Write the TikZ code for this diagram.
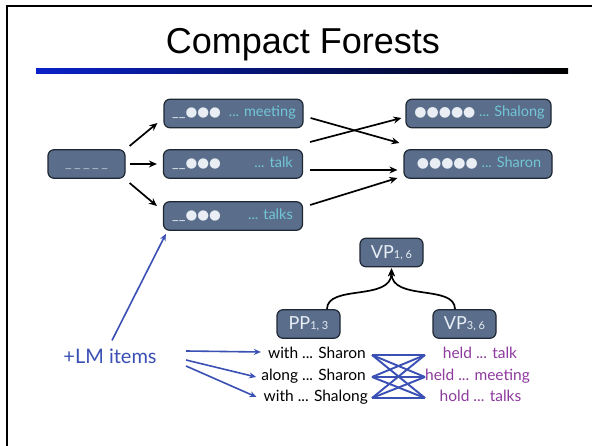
\documentclass[tikz,border=0pt]{standalone}
\usepackage{fontspec}
\setmainfont{Lato}
\newfontfamily\titlefont{Liberation Sans}
\newfontfamily\symfont{DejaVu Sans}
\usetikzlibrary{arrows.meta,calc}
\definecolor{boxfill}{HTML}{5A6E8C}
\definecolor{boxborder}{HTML}{1F2733}
\definecolor{cyantxt}{HTML}{72C6D6}
\definecolor{lighttxt}{HTML}{E8EEF4}
\definecolor{ustxt}{HTML}{B4C0CE}
\definecolor{lmblue}{HTML}{3A50B4}
\definecolor{purp}{HTML}{8E3A9E}
\definecolor{barblue}{HTML}{0A22C8}
\begin{document}
\begin{tikzpicture}[x=1pt,y=-1pt,
  mybox/.style={draw=boxborder, fill=boxfill, rounded corners=6pt, line width=1.2pt,
    minimum width=#1, minimum height=28.5pt, inner sep=0pt},
  intxt/.style={inner sep=0pt, text height=10pt, text depth=3pt, font=\fontsize{14.5}{16}\selectfont},
  treetxt/.style={text=lighttxt, font=\fontsize{18}{20}\selectfont},
  blackarrow/.style={line width=1.7pt, -{Stealth[length=8pt,width=7pt]}},
  bluearrow/.style={draw=lmblue, line width=1.6pt, -{Stealth[length=7pt,width=6pt]}},
  crossline/.style={draw=lmblue, line width=1.9pt},
  lowtxt/.style={inner sep=0pt, text height=11pt, text depth=3pt, font=\fontsize{15.5}{17}\selectfont}
]
\useasboundingbox (0,0) rectangle (592,446);
\fill[white] (0,0) rectangle (592,446);
% frame
\draw[line width=2.4pt] (7,446) -- (7,6) -- (592,6);
% title
\node[font=\titlefont\fontsize{36}{40}\selectfont, inner sep=0pt] (title) at (303,45) {Compact Forests};
\shade[left color=barblue, right color=black] (36,69) rectangle (568,74);

% boxes
\node[mybox=77] (L) at (86.5,164) {};
\node[intxt, text=ustxt] (Lt) at (86.5,164) {\_\,\_\,\_\,\_\,\_};

\node[mybox=139] (M1) at (233.5,113.5) {};
\node[mybox=139] (M2) at (233,164) {};
\node[mybox=139] (M3) at (233,216) {};
\node[intxt, anchor=west, text=lighttxt] (M1a) at (172,113.5) {\_\_{\symfont\fontsize{13.5}{15}\selectfont ●●●}};
\node[intxt, anchor=east, text=cyantxt] (M1b) at (296,113.5) {... meeting};
\node[intxt, anchor=west, text=lighttxt] (M2a) at (172,164) {\_\_{\symfont\fontsize{13.5}{15}\selectfont ●●●}};
\node[intxt, anchor=east, text=cyantxt] (M2b) at (293,164) {... talk};
\node[intxt, anchor=west, text=lighttxt] (M3a) at (172,216) {\_\_{\symfont\fontsize{13.5}{15}\selectfont ●●●}};
\node[intxt, anchor=east, text=cyantxt] (M3b) at (293,216) {... talks};

\node[mybox=145] (R1) at (478.5,113.5) {};
\node[mybox=148] (R2) at (478,164) {};
\node[intxt] (R1t) at (479.5,113.5) {\textcolor{lighttxt}{\symfont\fontsize{14}{15}\selectfont ●●●●●}\ \textcolor{cyantxt}{... Shalong}};
\node[intxt] (R2t) at (479,164) {\textcolor{lighttxt}{\symfont\fontsize{14}{15}\selectfont ●●●●●}\ \textcolor{cyantxt}{... Sharon}};

% black arrows
\draw[blackarrow] ($(L.east)+(4,-18)$) -- ($(M1.west)+(-6,9.5)$);
\draw[blackarrow] ($(L.east)+(4,0)$) -- ($(M2.west)+(-6,0)$);
\draw[blackarrow] ($(L.east)+(4,19)$) -- ($(M3.west)+(-6,-10)$);
\draw[blackarrow] ($(M1.east)+(7,4.5)$) -- ($(R2.west)+(-4,-21)$);
\draw[blackarrow] ($(M2.east)+(7,-22)$) -- ($(R1.west)+(-4,4.5)$);
\draw[blackarrow] ($(M2.east)+(7,6)$) -- ($(R2.west)+(-6,6)$);
\draw[blackarrow] ($(M3.east)+(7,-11)$) -- ($(R2.west)+(-6,14)$);

% tree
\node[mybox=63, treetxt] (VP16) at (391.5,252.5) {VP{\fontsize{11}{12}\selectfont 1, 6}};
\node[mybox=63, treetxt] (PP13) at (308.5,324) {PP{\fontsize{11}{12}\selectfont 1, 3}};
\node[mybox=63, treetxt] (VP36) at (464.5,324) {VP{\fontsize{11}{12}\selectfont 3, 6}};
\draw[blackarrow] ($(PP13.north)+(18.5,0)$) .. controls +(0,-25) and +(0,33) .. ($(VP16.south)+(0,1)$);
\draw[blackarrow] ($(VP36.north)+(-9.5,0)$) .. controls +(0,-25) and +(0,33) .. ($(VP16.south)+(0,1)$);

% bottom
\node[text=lmblue, font=\fontsize{20}{22}\selectfont, inner sep=0pt] (LM) at (110,356) {+LM items};
\draw[bluearrow] ($(LM.north)+(2,-8)$) -- ($(M3.south west)+(3,3)$);

\node[lowtxt, anchor=east] (w1) at (366,355) {with ... Sharon};
\node[lowtxt, anchor=east] (w2) at (366,377) {along ... Sharon};
\node[lowtxt, anchor=east] (w3) at (368,398) {with ... Shalong};
\node[lowtxt, text=purp] (h1) at (480,355) {held ... talk};
\node[lowtxt, text=purp] (h2) at (477.5,377) {held ... meeting};
\node[lowtxt, text=purp] (h3) at (480.5,398) {hold ... talks};

\coordinate (s1) at (186,351);
\coordinate (s2) at (186,360);
\coordinate (s3) at (186,366);
\draw[bluearrow] (s1) -- ($(w1.west)+(-7,-3)$);
\draw[bluearrow] (s2) -- ($(w2.west)+(-5,0)$);
\draw[bluearrow] (s3) -- ($(w3.west)+(-7,-1)$);

\coordinate (cl1) at (372,355);
\coordinate (cl2) at (372,377);
\coordinate (cl3) at (372,398);
\coordinate (cr1) at (425,355);
\coordinate (cr2) at (425,377);
\coordinate (cr3) at (425,398);
\foreach \a in {1,2,3}{
  \foreach \b in {1,2,3}{
    \draw[crossline] (cl\a) -- (cr\b);
  }
}
\end{tikzpicture}
\end{document}
